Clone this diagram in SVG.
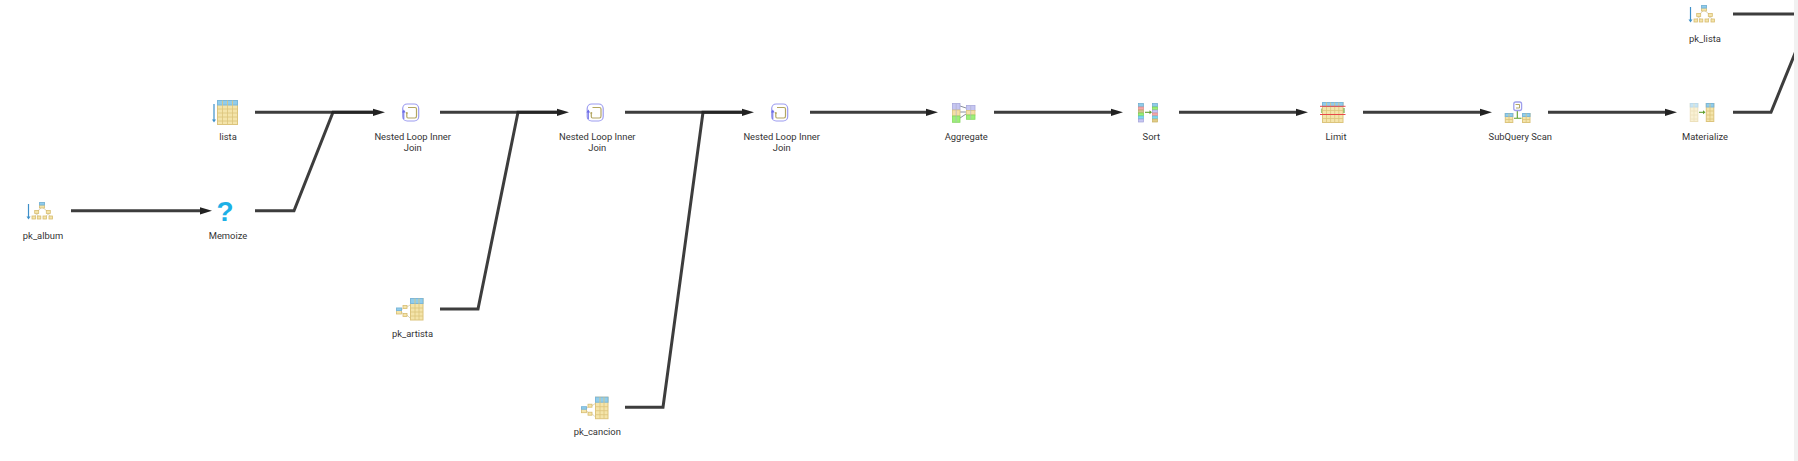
<svg xmlns="http://www.w3.org/2000/svg" width="1798" height="461" viewBox="0 0 1798 461">
<style>
.lbl{font-family:Roboto,"Liberation Sans",sans-serif;font-size:9.4px;fill:#333;text-anchor:middle}
.conn{fill:none;stroke:#222;stroke-width:3;stroke-opacity:.88;stroke-linejoin:miter}
.y{fill:#f4e4aa;stroke:#dcc47c;stroke-width:1}
.h{fill:#90cdec;stroke:#7db7d8;stroke-width:1}
.g{fill:none;stroke:#dcc47c;stroke-width:.8}
.tn{fill:#f4e4aa;stroke:#d8bc70;stroke-width:.8}
.tl{fill:none;stroke:#dcd6c0;stroke-width:1}
.down{fill:none;stroke:#3d8fc9;stroke-width:1.2}
.ah{fill:#3d8fc9}
.loopo{fill:none;stroke:#9c9cf0;stroke-width:1.2}
.loopi{fill:none;stroke:#b3a662;stroke-width:1.2}
.gr{fill:none;stroke:#5f9e2c;stroke-width:1.1}
.grf{fill:#5f9e2c}
.ga{fill:none;stroke:#8a8f9c;stroke-width:1}
.q{font-family:"Liberation Sans",Arial,sans-serif;font-size:28px;font-weight:bold;fill:#1cb0e6;text-anchor:middle}
</style>
<defs>
<marker id="arrow" markerUnits="userSpaceOnUse" markerWidth="13" markerHeight="9" refX="0" refY="4.500" orient="auto">
<path d="M0 .9L12 4.500L0 8.100Z" fill="#222"/>
</marker>
<g id="i-tree">
<path class="tl" d="M42 207L36.700 212M42 207L48.300 212M36.700 214L34 217M36.700 214L39 217M48.300 214L45 217M48.300 214L51 217"/>
<rect class="tn" x="39.500" y="205" width="5" height="3"/>
<rect class="h" x="39.500" y="202.500" width="5" height="2.500"/>
<rect class="tn" x="34.700" y="210.500" width="4" height="3"/>
<rect class="tn" x="46.300" y="210.500" width="4" height="3"/>
<rect class="tn" x="32" y="216" width="3.500" height="3"/>
<rect class="tn" x="37.300" y="216" width="3.500" height="3"/>
<rect class="tn" x="43" y="216" width="3.500" height="3"/>
<rect class="tn" x="49" y="216" width="3.500" height="3"/>
<path class="down" d="M28.500 204V217"/>
<path class="ah" d="M26.500 216.500H30.500L28.500 219.500Z"/>
</g>
<g id="i-idx">
<path class="tl" d="M400.500 311L404 307.500M400.500 311L404 314.500M407 307L410 305M407 315L410 318"/>
<rect class="tn" x="396.500" y="310" width="5" height="4"/>
<rect class="h" x="396.500" y="308" width="5" height="2.500"/>
<rect class="tn" x="403" y="305.500" width="4" height="3"/>
<rect class="tn" x="403" y="313.500" width="4" height="3"/>
<rect class="y" x="410.500" y="298.500" width="12.500" height="21.500"/>
<rect class="h" x="410.500" y="298.500" width="12.500" height="5"/>
<path class="g" d="M415 298.500V320M419 298.500V320M410.500 308H423M410.500 312H423M410.500 316H423"/>
</g>
<g id="i-loop">
<rect class="loopo" x="402.700" y="104" width="16" height="17" rx="4.500"/>
<path class="loopi" d="M408 107.500H415Q416.500 107.500 416.500 109V116Q416.500 118 415 118H408Q406.800 118 406.800 116.500V113"/>
<circle cx="406.800" cy="113" r="1" fill="#b3a662"/>
<path d="M403.800 119V112" stroke="#6a6ae6" stroke-width="1" fill="none"/>
<path d="M402 112.500H405.600L403.800 109.500Z" fill="#6a6ae6"/>
</g>
</defs>

<g id="connectors">
<path class="conn" d="M71 210.800H200" marker-end="url(#arrow)"/>
<path class="conn" d="M255 112.300H373" marker-end="url(#arrow)"/>
<path class="conn" d="M255 210.800H294L333 112.300H373"/>
<path class="conn" d="M440 112.300H557" marker-end="url(#arrow)"/>
<path class="conn" d="M440 309H478L518 112.300H557"/>
<path class="conn" d="M625 112.300H742" marker-end="url(#arrow)"/>
<path class="conn" d="M625 407.300H663L703 112.300H742"/>
<path class="conn" d="M810 112.300H926" marker-end="url(#arrow)"/>
<path class="conn" d="M994 112.300H1111" marker-end="url(#arrow)"/>
<path class="conn" d="M1179 112.300H1296" marker-end="url(#arrow)"/>
<path class="conn" d="M1363 112.300H1480" marker-end="url(#arrow)"/>
<path class="conn" d="M1548 112.300H1665" marker-end="url(#arrow)"/>
<path class="conn" d="M1733 112.300H1771L1811 14"/>
<path class="conn" d="M1733 14H1811"/>
</g>

<g id="node-pk-album">
<use href="#i-tree"/>
<text class="lbl" x="43" y="239">pk_album</text>
</g>
<g id="node-lista">
<rect class="y" x="217.500" y="100.500" width="20" height="24"/>
<rect class="h" x="217.500" y="100.500" width="20" height="4.500"/>
<path class="g" d="M222.500 100.500V124.500M227.500 100.500V124.500M232.500 100.500V124.500M217.500 109H237.500M217.500 113H237.500M217.500 117H237.500M217.500 121H237.500"/>
<path class="down" d="M214 104V120"/>
<path class="ah" d="M212 119.500H216L214 122.500Z"/>
<text class="lbl" x="228" y="140">lista</text>
</g>
<g id="node-memoize">
<text class="q" x="225" y="221">?</text>
<text class="lbl" x="228" y="239">Memoize</text>
</g>
<g id="node-join-1">
<use href="#i-loop"/>
<text class="lbl" x="412.700" y="140">Nested Loop Inner</text>
<text class="lbl" x="412.700" y="151">Join</text>
</g>
<g id="node-pk-artista">
<use href="#i-idx"/>
<text class="lbl" x="412.500" y="337">pk_artista</text>
</g>
<g id="node-join-2">
<use href="#i-loop" x="184.500"/>
<text class="lbl" x="597.300" y="140">Nested Loop Inner</text>
<text class="lbl" x="597.300" y="151">Join</text>
</g>
<g id="node-pk-cancion">
<use href="#i-idx" x="185" y="98.700"/>
<text class="lbl" x="597.300" y="435">pk_cancion</text>
</g>
<g id="node-join-3">
<use href="#i-loop" x="369"/>
<text class="lbl" x="781.700" y="140">Nested Loop Inner</text>
<text class="lbl" x="781.700" y="151">Join</text>
</g>
<g id="node-aggregate">
<path class="ga" d="M960 106L966 108M960 112H966M960 118L966 114"/>
<rect x="952.500" y="103.500" width="7.500" height="6.500" fill="#c6c6f2" stroke="#a8a8dc" stroke-width=".8"/>
<rect x="952.500" y="110" width="7.500" height="6" fill="#f4dea6" stroke="#dcc47c" stroke-width=".8"/>
<rect x="952.500" y="116" width="7.500" height="6.300" fill="#9cf078" stroke="#86d860" stroke-width=".8"/>
<path d="M956.200 103.500V122.300" stroke="#b0b0c8" stroke-width=".6"/>
<rect x="966.500" y="105.500" width="8.500" height="5" fill="#c6c6f2" stroke="#a8a8dc" stroke-width=".8"/>
<rect x="966.500" y="110.500" width="8.500" height="4.500" fill="#f4dea6" stroke="#dcc47c" stroke-width=".8"/>
<rect x="966.500" y="115" width="8.500" height="4.300" fill="#9cf078" stroke="#86d860" stroke-width=".8"/>
<path d="M970.700 105.500V119.300" stroke="#b0b0c8" stroke-width=".6"/>
<text class="lbl" x="966.300" y="140">Aggregate</text>
</g>
<g id="node-sort">
<rect x="1138.500" y="103.500" width="5" height="3.500" fill="#8fcbe8" stroke="#6aa9cc" stroke-width=".7"/>
<rect x="1138.500" y="107" width="5" height="3" fill="#f4a8a8" stroke="#e08a8a" stroke-width=".7"/>
<rect x="1138.500" y="110" width="5" height="3" fill="#d0c490" stroke="#b8aa70" stroke-width=".7"/>
<rect x="1138.500" y="113" width="5" height="3" fill="#9cf078" stroke="#78d050" stroke-width=".7"/>
<rect x="1138.500" y="116" width="5" height="3" fill="#80d8f0" stroke="#60bcd8" stroke-width=".7"/>
<rect x="1138.500" y="119" width="5" height="3" fill="#c6c6f2" stroke="#a0a0d8" stroke-width=".7"/>
<rect x="1152.500" y="103.500" width="5" height="3.500" fill="#8fcbe8" stroke="#6aa9cc" stroke-width=".7"/>
<rect x="1152.500" y="107" width="5" height="3" fill="#9cf078" stroke="#78d050" stroke-width=".7"/>
<rect x="1152.500" y="110" width="5" height="3" fill="#c6c6f2" stroke="#a0a0d8" stroke-width=".7"/>
<rect x="1152.500" y="113" width="5" height="3" fill="#f4a8a8" stroke="#e08a8a" stroke-width=".7"/>
<rect x="1152.500" y="116" width="5" height="3" fill="#80d8f0" stroke="#60bcd8" stroke-width=".7"/>
<rect x="1152.500" y="119" width="5" height="3" fill="#e0cc88" stroke="#c8b060" stroke-width=".7"/>
<path class="gr" d="M1145 112.300H1150"/>
<path class="grf" d="M1149.500 110.300L1152 112.300L1149.500 114.300Z"/>
<text class="lbl" x="1151.300" y="140">Sort</text>
</g>
<g id="node-limit">
<rect class="y" x="1322.500" y="102.500" width="20.500" height="20"/>
<rect class="h" x="1322.500" y="102.500" width="20.500" height="4"/>
<path class="g" d="M1326.500 102.500V122.500M1330.600 102.500V122.500M1334.700 102.500V122.500M1338.800 102.500V122.500M1322.500 110.500H1343M1322.500 118.500H1343"/>
<path d="M1320 106.300H1345.500M1320 114.500H1345.500" stroke="#e8484a" stroke-width="1" fill="none"/>
<path d="M1321.500 108.500V113" stroke="#a8c87c" stroke-width="1.200"/>
<path d="M1344 108V113" stroke="#5f9e2c" stroke-width="1"/>
<text class="lbl" x="1336" y="140">Limit</text>
</g>
<g id="node-subquery">
<path class="gr" d="M1517.300 110V118.300M1514 118.300H1521.500"/>
<rect x="1513.800" y="102" width="7.800" height="8.500" rx="2" fill="#fff" stroke="#a0a0ec" stroke-width="1.300"/>
<path d="M1515.500 104.500H1519.500V108H1516" fill="none" stroke="#ab9d55" stroke-width=".9"/>
<rect class="y" x="1505.300" y="113.500" width="7.500" height="9"/>
<rect class="h" x="1505.300" y="113.500" width="7.500" height="3"/>
<path class="g" d="M1509 113.500V122.500M1505.300 119.500H1512.800"/>
<rect class="y" x="1522.500" y="113.500" width="7.500" height="9"/>
<rect class="h" x="1522.500" y="113.500" width="7.500" height="3"/>
<path class="g" d="M1526.200 113.500V122.500M1522.500 119.500H1530"/>
<text class="lbl" x="1520.300" y="140">SubQuery Scan</text>
</g>
<g id="node-pk-lista">
<use href="#i-tree" x="1662" y="-197"/>
<text class="lbl" x="1705" y="42">pk_lista</text>
</g>
<g id="node-materialize">
<g opacity=".5">
<rect class="y" x="1690.300" y="103.500" width="7.500" height="18"/>
<rect class="h" x="1690.300" y="103.500" width="7.500" height="3.500"/>
<path class="g" d="M1694 103.500V121.500M1690.300 111H1697.800M1690.300 115H1697.800M1690.300 119H1697.800"/>
</g>
<rect class="y" x="1706.300" y="103.500" width="7.500" height="18"/>
<rect class="h" x="1706.300" y="103.500" width="7.500" height="3.500"/>
<path class="g" d="M1710 103.500V121.500M1706.300 111H1713.800M1706.300 115H1713.800M1706.300 119H1713.800"/>
<path class="gr" d="M1699 112.300H1703.500"/>
<path class="grf" d="M1703 110.300L1705.500 112.300L1703 114.300Z"/>
<text class="lbl" x="1705" y="140">Materialize</text>
</g>
<rect id="scrollbar" x="1794" y="0" width="4" height="461" fill="#f1f1f1"/>
</svg>
